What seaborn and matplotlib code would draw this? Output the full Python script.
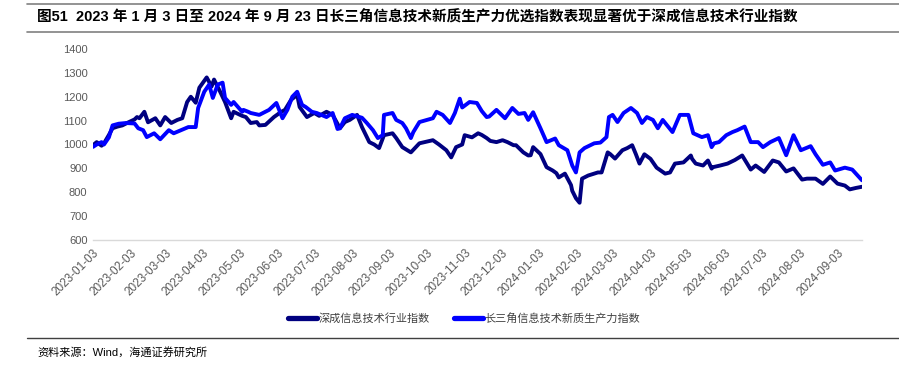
import matplotlib
matplotlib.use("Agg")
import matplotlib.pyplot as plt
import matplotlib.dates as mdates
from matplotlib.lines import Line2D
import seaborn as sns
import pandas as pd

# ---------------- data ----------------
sz_dates = [
    "2023-01-03", "2023-01-06", "2023-01-10", "2023-01-12", "2023-01-16", "2023-01-19", "2023-01-23", "2023-01-27",
    "2023-02-01", "2023-02-06", "2023-02-08", "2023-02-10", "2023-02-14", "2023-02-17", "2023-02-23", "2023-02-27",
    "2023-03-03", "2023-03-08", "2023-03-13", "2023-03-17", "2023-03-21", "2023-03-24", "2023-03-28", "2023-03-31",
    "2023-04-06", "2023-04-10", "2023-04-12", "2023-04-17", "2023-04-21", "2023-04-26", "2023-04-28", "2023-05-05",
    "2023-05-08", "2023-05-12", "2023-05-17", "2023-05-19", "2023-05-24", "2023-05-31", "2023-06-06", "2023-06-09",
    "2023-06-14", "2023-06-19", "2023-06-21", "2023-06-27", "2023-07-03", "2023-07-07", "2023-07-13", "2023-07-18",
    "2023-07-24", "2023-07-28", "2023-08-01", "2023-08-07", "2023-08-11", "2023-08-17", "2023-08-21", "2023-08-25",
    "2023-08-29", "2023-09-05", "2023-09-08", "2023-09-13", "2023-09-20", "2023-09-27", "2023-10-03", "2023-10-08",
    "2023-10-13", "2023-10-19", "2023-10-23", "2023-10-27", "2023-11-01", "2023-11-03", "2023-11-09", "2023-11-14",
    "2023-11-17", "2023-11-21", "2023-11-24", "2023-11-29", "2023-12-04", "2023-12-08", "2023-12-13", "2023-12-15",
    "2023-12-21", "2023-12-25", "2023-12-27", "2023-12-29", "2024-01-04", "2024-01-09", "2024-01-14", "2024-01-17",
    "2024-01-19", "2024-01-24", "2024-01-29", "2024-01-30", "2024-02-02", "2024-02-05", "2024-02-07", "2024-02-12",
    "2024-02-20", "2024-02-23", "2024-02-28", "2024-03-01", "2024-03-05", "2024-03-11", "2024-03-15", "2024-03-19",
    "2024-03-22", "2024-03-25", "2024-03-29", "2024-04-03", "2024-04-08", "2024-04-15", "2024-04-19", "2024-04-23",
    "2024-04-30", "2024-05-06", "2024-05-07", "2024-05-10", "2024-05-16", "2024-05-20", "2024-05-23", "2024-05-24",
    "2024-05-30", "2024-06-05", "2024-06-11", "2024-06-17", "2024-06-24", "2024-06-28", "2024-07-05", "2024-07-12",
    "2024-07-17", "2024-07-23", "2024-07-29", "2024-08-05", "2024-08-09", "2024-08-13", "2024-08-16", "2024-08-22",
    "2024-08-28", "2024-09-03", "2024-09-09", "2024-09-13", "2024-09-18", "2024-09-23",
]
sz_values = [
    997, 1010, 995, 1005, 1040, 1068, 1075, 1080,
    1093, 1105, 1115, 1110, 1137, 1093, 1110, 1080,
    1115, 1090, 1103, 1110, 1178, 1200, 1175, 1238,
    1281, 1243, 1272, 1221, 1178, 1110, 1137, 1120,
    1115, 1090, 1094, 1080, 1082, 1115, 1137, 1145,
    1187, 1208, 1157, 1115, 1132, 1120, 1137, 1124,
    1068, 1094, 1103, 1124, 1073, 1010, 1000, 985,
    1039, 1047, 1027, 989, 967, 1005, 1012, 1018,
    1000, 976, 946, 989, 1000, 1039, 1030, 1047,
    1040, 1027, 1015, 1010, 1018, 1010, 997, 997,
    967, 954, 955, 989, 960, 905, 891, 880,
    862, 878, 830, 806, 775, 756, 857, 870,
    883, 883, 967, 960, 941, 976, 985, 997,
    960, 920, 959, 940, 903, 878, 883, 920,
    925, 954, 940, 920, 912, 933, 899, 905,
    912, 920, 935, 954, 895, 912, 885, 933,
    925, 887, 900, 853, 857, 857, 857, 835,
    866, 836, 828, 812, 818, 823,
]

csj_dates = [
    "2023-01-03", "2023-01-06", "2023-01-10", "2023-01-12", "2023-01-16", "2023-01-19", "2023-01-24", "2023-01-30",
    "2023-02-06", "2023-02-09", "2023-02-13", "2023-02-16", "2023-02-22", "2023-02-27", "2023-03-06", "2023-03-10",
    "2023-03-16", "2023-03-22", "2023-03-28", "2023-03-30", "2023-04-04", "2023-04-08", "2023-04-11", "2023-04-15",
    "2023-04-19", "2023-04-21", "2023-04-26", "2023-04-28", "2023-05-05", "2023-05-06", "2023-05-10", "2023-05-12",
    "2023-05-19", "2023-05-27", "2023-06-02", "2023-06-07", "2023-06-11", "2023-06-15", "2023-06-19", "2023-06-23",
    "2023-06-26", "2023-07-01", "2023-07-05", "2023-07-13", "2023-07-18", "2023-07-22", "2023-07-24", "2023-07-28",
    "2023-08-03", "2023-08-11", "2023-08-15", "2023-08-20", "2023-08-24", "2023-08-28", "2023-08-29", "2023-09-05",
    "2023-09-08", "2023-09-13", "2023-09-16", "2023-09-20", "2023-09-22", "2023-09-27", "2023-10-08", "2023-10-11",
    "2023-10-16", "2023-10-22", "2023-10-26", "2023-10-30", "2023-11-01", "2023-11-07", "2023-11-13", "2023-11-17",
    "2023-11-21", "2023-11-23", "2023-11-29", "2023-12-06", "2023-12-12", "2023-12-17", "2023-12-22", "2023-12-25",
    "2023-12-29", "2024-01-04", "2024-01-09", "2024-01-16", "2024-01-19", "2024-01-26", "2024-01-30", "2024-02-02",
    "2024-02-05", "2024-02-09", "2024-02-17", "2024-02-22", "2024-02-27", "2024-02-29", "2024-03-03", "2024-03-07",
    "2024-03-12", "2024-03-18", "2024-03-23", "2024-03-27", "2024-03-31", "2024-04-05", "2024-04-09", "2024-04-13",
    "2024-04-21", "2024-04-27", "2024-05-04", "2024-05-08", "2024-05-15", "2024-05-20", "2024-05-23", "2024-05-25",
    "2024-05-29", "2024-06-04", "2024-06-09", "2024-06-13", "2024-06-19", "2024-06-24", "2024-06-30", "2024-07-04",
    "2024-07-10", "2024-07-17", "2024-07-23", "2024-07-29", "2024-08-04", "2024-08-12", "2024-08-16", "2024-08-22",
    "2024-08-28", "2024-09-01", "2024-09-09", "2024-09-15", "2024-09-23",
]
csj_values = [
    990, 1000, 1010, 1000, 1030, 1080, 1087, 1090,
    1088, 1068, 1060, 1031, 1047, 1022, 1060, 1047,
    1060, 1073, 1073, 1153, 1221, 1251, 1195, 1251,
    1259, 1195, 1166, 1178, 1137, 1145, 1137, 1132,
    1124, 1145, 1174, 1110, 1145, 1200, 1221, 1166,
    1157, 1137, 1132, 1115, 1132, 1065, 1068, 1110,
    1124, 1112, 1090, 1060, 1027, 1039, 1124, 1132,
    1103, 1090, 1068, 1027, 1052, 1094, 1110, 1137,
    1124, 1090, 1132, 1192, 1155, 1178, 1174, 1140,
    1115, 1117, 1145, 1110, 1153, 1128, 1132, 1103,
    1135, 1068, 1010, 1025, 997, 976, 912, 883,
    967, 985, 1005, 1008, 1031, 1115, 1124, 1094,
    1132, 1153, 1132, 1090, 1115, 1103, 1068, 1103,
    1052, 1124, 1124, 1047, 1031, 1039, 989, 1005,
    1010, 1039, 1052, 1060, 1075, 1010, 1010, 989,
    1010, 1027, 955, 1039, 976, 993, 959, 915,
    925, 891, 903, 895, 850,
]

series_names = ["深成信息技术行业指数", "长三角信息技术新质生产力指数"]
series_colors = ["#000080", "#0000FF"]
tick_dates = ["2023-01-03", "2023-02-03", "2023-03-03", "2023-04-03", "2023-05-03", "2023-06-03",
              "2023-07-03", "2023-08-03", "2023-09-03", "2023-10-03", "2023-11-03", "2023-12-03",
              "2024-01-03", "2024-02-03", "2024-03-03", "2024-04-03", "2024-05-03", "2024-06-03",
              "2024-07-03", "2024-08-03", "2024-09-03"]
y_ticks = [600, 700, 800, 900, 1000, 1100, 1200, 1300, 1400]

title_text = "图51  2023 年 1 月 3 日至 2024 年 9 月 23 日长三角信息技术新质生产力优选指数表现显著优于深成信息技术行业指数"
source_text = "资料来源：Wind，海通证券研究所"

# ---------------- build table ----------------
df = pd.concat([
    pd.DataFrame({"date": pd.to_datetime(sz_dates), "value": sz_values, "series": series_names[0]}),
    pd.DataFrame({"date": pd.to_datetime(csj_dates), "value": csj_values, "series": series_names[1]}),
], ignore_index=True)

# ---------------- style ----------------
sns.set_style("white")
FAM = ["Liberation Sans", "Noto Sans CJK SC", "DejaVu Sans"]
plt.rcParams["font.family"] = FAM

W, H = 899, 368
fig = plt.figure(figsize=(W / 100, H / 100), dpi=100)
ax = fig.add_axes([93 / W, 1 - 240 / H, (862 - 93) / W, (240 - 49) / H])

sns.lineplot(data=df, x="date", y="value", hue="series", hue_order=series_names,
             palette=series_colors, linewidth=2.8, ax=ax, legend=False, sort=True)

ax.set_xlim(pd.Timestamp(sz_dates[0]), pd.Timestamp(sz_dates[-1]))
ax.set_ylim(600, 1400)
ax.set_yticks(y_ticks)
ax.set_yticklabels([str(v) for v in y_ticks], fontsize=8, color="#595959")
ax.set_xticks(pd.to_datetime(tick_dates))
ax.xaxis.set_major_formatter(mdates.DateFormatter("%Y-%m-%d"))
for lab in ax.get_xticklabels():
    lab.set_rotation(45)
    lab.set_ha("right")
    lab.set_rotation_mode("anchor")
    lab.set_fontsize(8.5)
    lab.set_color("#595959")
ax.tick_params(axis="both", length=0, pad=4)
ax.tick_params(axis="x", pad=5)
ax.set_xlabel("")
ax.set_ylabel("")
for s in ["top", "right", "left"]:
    ax.spines[s].set_visible(False)
ax.spines["bottom"].set_color("#D9D9D9")
ax.spines["bottom"].set_linewidth(1.0)
ax.grid(False)

# legend
handles = [Line2D([0], [0], color=c, linewidth=3.8) for c in series_colors]
fig.legend(handles, series_names, loc="center", bbox_to_anchor=(464 / W, 1 - 318 / H),
           ncol=2, frameon=False, handlelength=2.6, handletextpad=0.1,
           columnspacing=2.2, labelcolor="#404040", prop={"family": FAM, "size": 8})

# header / footer decorations
line_color = "#808080"
fig.add_artist(Line2D([27 / W, 1], [1 - 4 / H, 1 - 4 / H], color=line_color, linewidth=1.2, transform=fig.transFigure))
fig.add_artist(Line2D([27 / W, 1], [1 - 32 / H, 1 - 32 / H], color=line_color, linewidth=1.2, transform=fig.transFigure))
fig.add_artist(Line2D([27 / W, 1], [1 - 338 / H, 1 - 338 / H], color="#404040", linewidth=1.0, transform=fig.transFigure))
fig.text(37 / W, 1 - 17 / H, title_text, fontsize=10.5, fontweight="bold", color="black",
         ha="left", va="center", family=FAM)
fig.text(37 / W, 1 - 352 / H, source_text, fontsize=8, color="black", ha="left", va="center", family=FAM)

fig.savefig("out.png", dpi=100)
